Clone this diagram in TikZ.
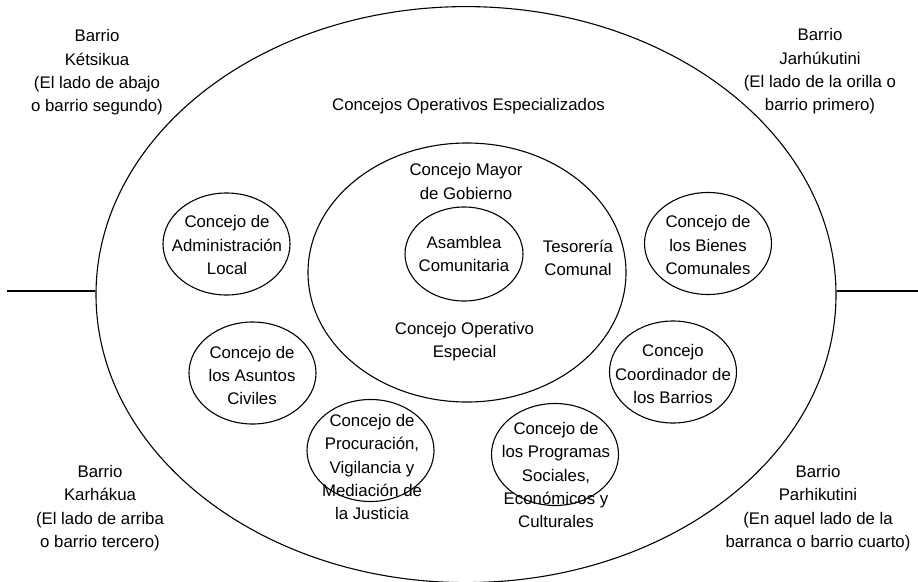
\documentclass[tikz,border=0pt]{standalone}
\usepackage{fontspec}
\setmainfont{Liberation Sans}
\usetikzlibrary{shapes.geometric}
\begin{document}
\begin{tikzpicture}[x=1pt,y=-1pt,
  ring/.style={draw, ellipse, line width=1.1pt, inner sep=0pt},
  council/.style={ring, minimum width=127pt, minimum height=102pt},
  txt/.style={align=center, inner sep=0pt, font=\fontsize{16.8}{23.3}\selectfont},
  border/.style={line width=1.1pt}]
\useasboundingbox (0,0) rectangle (918,581);

% the community and its governing bodies
\node[ring, minimum width=740pt, minimum height=576pt] (outer) at (466,294.6) {};
\node[ring, minimum width=318pt, minimum height=259pt] (mayor) at (467,272.5) {};
\node[ring, minimum width=118pt, minimum height=94pt] (asamblea) at (464,254) {};

% specialised councils around the centre
\node[council] (adm) at (226.5,244) {};
\node[council] (bienes) at (708,243.5) {};
\node[council] (civiles) at (252.5,373) {};
\node[council] (procur) at (370.5,450.5) {};
\node[council] (coord) at (673,372) {};
\node[council] (progr) at (555,454.5) {};

% division lines between the four barrios
\coordinate (lw) at (7,291);
\coordinate (le) at (918,291);
\draw[border] (lw) -- (lw -| outer.west);
\draw[border] (le) -- (le -| outer.east);

% labels
\node[txt] (tesp) at (468.5,106) {Concejos Operativos Especializados};
\node[txt] (tmayor) at (466,181.5) {Concejo Mayor\\de Gobierno};
\node[txt] (tasam) at (464,254) {Asamblea\\Comunitaria};
\node[txt] (ttes) at (578,258) {Tesorería\\Comunal};
\node[txt] (tespecial) at (464.5,341.5) {Concejo Operativo\\Especial};
\node[txt] (tadm) at (227,245) {Concejo de\\Administración\\Local};
\node[txt] (tbienes) at (708,245) {Concejo de\\los Bienes\\Comunales};
\node[txt] (tciv) at (252,375.5) {Concejo de\\los Asuntos\\Civiles};
\node[txt] (tproc) at (372,467) {Concejo de\\Procuración,\\Vigilancia y\\Mediación de\\la Justicia};
\node[txt] (tcoord) at (673,374) {Concejo\\Coordinador de\\los Barrios};
\node[txt] (tprog) at (556,475) {Concejo de\\los Programas\\Sociales,\\Económicos y\\Culturales};

\node[txt] (b2) at (97,72.5) {Barrio\\Kétsikua\\(El lado de abajo\\o barrio segundo)};
\node[txt] (b1) at (820,71.5) {Barrio\\Jarhúkutini\\(El lado de la orilla o\\barrio primero)};
\node[txt] (b3) at (100,508) {Barrio\\Karhákua\\(El lado de arriba\\o barrio tercero)};
\node[txt] (b4) at (818,508) {Barrio\\Parhikutini\\(En aquel lado de la\\barranca o barrio cuarto)};
\end{tikzpicture}
\end{document}
